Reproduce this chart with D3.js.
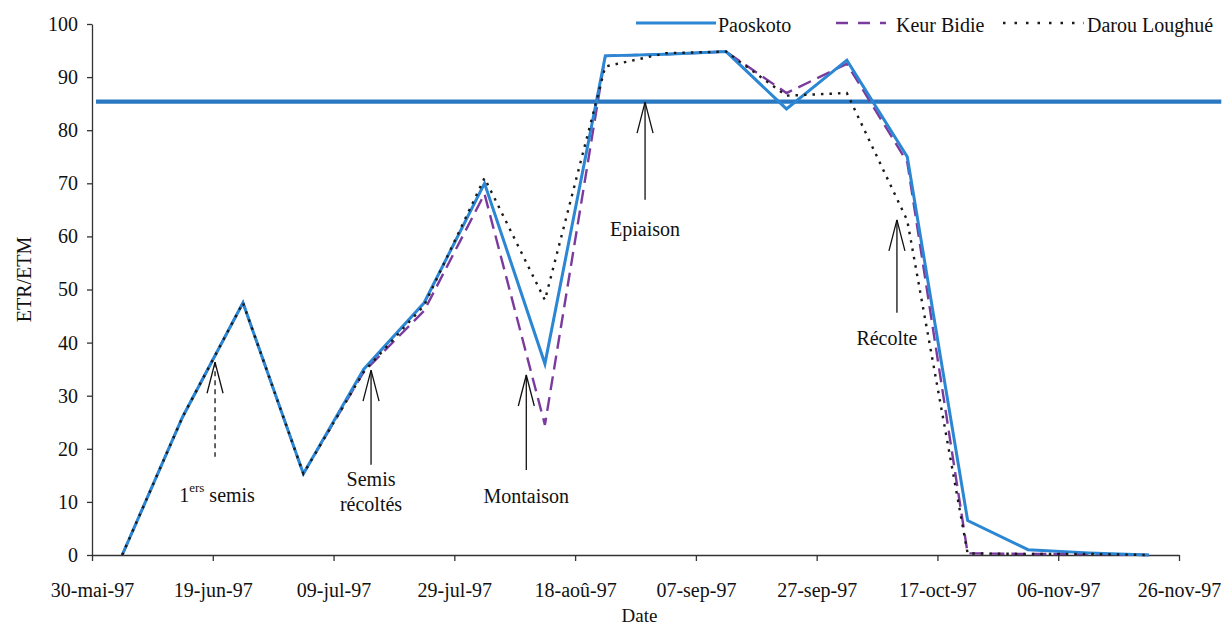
<!DOCTYPE html>
<html>
<head>
<meta charset="utf-8">
<script src="https://cdn.jsdelivr.net/npm/d3@7"></script>
<style>
  html, body { margin: 0; padding: 0; background: #fff; }
  svg { display: block; }
  svg text { font-family: "Liberation Serif", Tinos, "Times New Roman", Times, "DejaVu Serif", serif !important; fill: #111; }
</style>
</head>
<body>
<svg id="chart" width="1227" height="628"></svg>
<script>
// ---------- data ----------
const dates = ["1997-06-04","1997-06-14","1997-06-24","1997-07-04","1997-07-14","1997-07-24",
               "1997-08-03","1997-08-13","1997-08-23","1997-09-02","1997-09-12","1997-09-22",
               "1997-10-02","1997-10-12","1997-10-22","1997-11-01","1997-11-11","1997-11-21"];
const paoskoto     = [0, 26, 47.5, 15.3, 35, 47.5, 70, 36, 94, 94.3, 94.8, 84, 93.2, 75, 6.5, 1, 0.4, 0];
const keurBidie    = [0, 26, 47.5, 15.3, 34.5, 46, 68, 24.5, 94, 94.3, 94.8, 87, 92.5, 74, 0.3, 0.2, 0.2, 0];
const darouLoughue = [0, 26, 47.5, 15.3, 34.5, 47, 71, 48, 92, 94.5, 94.8, 86.5, 87, 63, 0.3, 0.2, 0.2, 0];

const seriesNames = ["Paoskoto", "Keur Bidie", "Darou Loughué"];

const xTickDates  = ["1997-05-30","1997-06-19","1997-07-09","1997-07-29","1997-08-18",
                     "1997-09-07","1997-09-27","1997-10-17","1997-11-06","1997-11-26"];
const xTickLabels = ["30-mai-97","19-jun-97","09-jul-97","29-jul-97","18-aoû-97",
                     "07-sep-97","27-sep-97","17-oct-97","06-nov-97","26-nov-97"];
const yTicks = [0, 10, 20, 30, 40, 50, 60, 70, 80, 90, 100];

// reference line (ETR/ETM threshold)
const refValue = 85.4;
const refDates = ["1997-05-30T16:00", "1997-12-03T00:00"];

// annotations: arrow x date, tip value, base value, label lines
const annDates  = ["1997-06-19T09:00","1997-07-15T05:00","1997-08-09T22:00","1997-08-29T14:00","1997-10-10T07:00"];
const annTips   = [36.3, 34.8, 33.9, 85.3, 63.1];
const annBases  = [18.5, 17.0, 16.0, 66.9, 45.6];
const annLabels = [["1|ers| semis"], ["Semis", "récoltés"], ["Montaison"], ["Epiaison"], ["Récolte"]];

// ---------- layout ----------
const FONT = '"Liberation Serif", Tinos, "Times New Roman", Times, "DejaVu Serif", serif';
const svg = d3.select("#chart").attr("font-family", FONT);
const parse = d3.isoParse;
const x = d3.scaleTime().domain([parse("1997-05-30"), parse("1997-11-26")]).range([92, 1179]);
const y = d3.scaleLinear().domain([0, 100]).range([555, 24]);

const fontSize = 20;

// axes
const gy = svg.append("g").attr("transform", `translate(${x.range()[0]},0)`)
  .call(d3.axisLeft(y).tickValues(yTicks).tickSize(5).tickSizeOuter(0).tickPadding(9));
const gx = svg.append("g").attr("transform", `translate(0,${y(0)})`)
  .call(d3.axisBottom(x).tickValues(xTickDates.map(parse))
        .tickFormat((d, i) => xTickLabels[i]).tickSize(6).tickSizeOuter(0).tickPadding(22));
[gx, gy].forEach(g => {
  g.attr("font-family", FONT).attr("font-size", fontSize);
  g.selectAll("path.domain").attr("stroke", "#333").attr("stroke-width", 1.3);
  g.selectAll(".tick line").attr("stroke", "#333").attr("stroke-width", 1.3);
  g.selectAll(".tick text").attr("font-size", fontSize).attr("fill", "#111")
    .attr("font-family", FONT);
});

// axis titles
svg.append("text").attr("transform", `translate(24,${(y(0)+y(100))/2 - 10}) rotate(-90)`)
  .attr("text-anchor", "middle").attr("dominant-baseline", "central")
  .attr("font-size", fontSize).text("ETR/ETM");
svg.append("text").attr("x", (x.range()[0] + x.range()[1]) / 2 + 4).attr("y", 622)
  .attr("text-anchor", "middle").attr("font-size", fontSize - 1).text("Date");

// reference line
svg.append("line")
  .attr("x1", x(parse(refDates[0]))).attr("x2", x(parse(refDates[1])))
  .attr("y1", y(refValue)).attr("y2", y(refValue))
  .attr("stroke", "#2a78c2").attr("stroke-width", 4.2);

// series
const pts = vals => vals.map((v, i) => [parse(dates[i]), v]);
const line = d3.line().x(d => x(d[0])).y(d => y(d[1]));

const styles = [
  { color: "#2b86d3", width: 3,   dash: null },
  { color: "#7b3a9e", width: 2.4, dash: "14,7" },
  { color: "#1a1a1a", width: 2.4, dash: "2.5,6" }
];
const seriesVals = [paoskoto, keurBidie, darouLoughue];
const drawOrder = [1, 0, 2];
drawOrder.forEach(k => {
  svg.append("path").datum(pts(seriesVals[k]))
    .attr("d", line).attr("fill", "none")
    .attr("stroke", styles[k].color).attr("stroke-width", styles[k].width)
    .attr("stroke-dasharray", styles[k].dash)
    .attr("stroke-linejoin", "miter");
});

// legend
const legendItems = [
  { x1: 636, x2: 716, tx: 718 },
  { x1: 836, x2: 886, tx: 896 },
  { x1: 1003, x2: 1084, tx: 1087 }
];
legendItems.forEach((it, k) => {
  svg.append("line").attr("x1", it.x1).attr("x2", it.x2).attr("y1", 23).attr("y2", 23)
    .attr("stroke", styles[k].color).attr("stroke-width", k === 0 ? 3 : 2.4)
    .attr("stroke-dasharray", k === 1 ? "12,10" : (k === 2 ? "2.5,9" : null));
  svg.append("text").attr("x", it.tx).attr("y", 32).attr("font-size", fontSize)
    .text(seriesNames[k]);
});

// annotations (open-V arrows)
const labelDy = [45, 21, 33, 36, 32];
const labelDx = [2, 0, 0, 0, -10];
annDates.forEach((d, i) => {
  const ax = x(parse(d));
  const yt = y(annTips[i]), yb = y(annBases[i]);
  const g = svg.append("g");
  g.append("line").attr("x1", ax).attr("x2", ax).attr("y1", yt).attr("y2", yb)
    .attr("stroke", "#111").attr("stroke-width", 1.3)
    .attr("stroke-dasharray", i === 0 ? "5,4" : null);
  g.append("path")
    .attr("d", `M${ax - 8},${yt + 31} L${ax},${yt} L${ax + 8},${yt + 31}`)
    .attr("fill", "none").attr("stroke", "#111").attr("stroke-width", 1.3);
  annLabels[i].forEach((ln, j) => {
    const t = g.append("text").attr("x", ax + labelDx[i]).attr("y", yb + labelDy[i] + j * 25)
      .attr("text-anchor", "middle").attr("font-size", fontSize);
    if (ln.includes("|")) {
      const parts = ln.split("|");
      t.append("tspan").text(parts[0]);
      t.append("tspan").attr("font-size", 13).attr("dy", -10).text(parts[1]);
      t.append("tspan").attr("dy", 10).text(parts[2]);
    } else {
      t.text(ln);
    }
  });
});
</script>
</body>
</html>
